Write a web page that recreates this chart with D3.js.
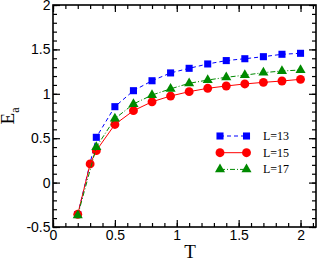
<!DOCTYPE html>
<html>
<head>
<meta charset="utf-8">
<script src="https://cdn.jsdelivr.net/npm/d3@7"></script>
<style>
  body { margin: 0; background: #fff; }
  svg { display: block; font-family: "Liberation Serif", "DejaVu Serif", serif; }
</style>
</head>
<body>
<script>
// Temperatures (x values) shared by the series
const temps = [0.2, 0.35, 0.5, 0.65, 0.8, 0.95, 1.1, 1.25, 1.4, 1.55, 1.7, 1.85, 2.0];
// L=15 has one extra point at T=0.3
const temps15 = [0.2, 0.3, 0.35, 0.5, 0.65, 0.8, 0.95, 1.1, 1.25, 1.4, 1.55, 1.7, 1.85, 2.0];

const ea13 = [-0.36, 0.51, 0.855, 1.035, 1.147, 1.235, 1.287, 1.336, 1.374, 1.395, 1.418, 1.445, 1.456];
const ea15 = [-0.357, 0.21, 0.36, 0.655, 0.81, 0.91, 0.975, 1.024, 1.062, 1.088, 1.111, 1.129, 1.144, 1.163];
const ea17 = [-0.37, 0.40, 0.72, 0.885, 0.986, 1.056, 1.118, 1.155, 1.186, 1.21, 1.238, 1.257, 1.268];

const seriesNames = ["L=13", "L=15", "L=17"];
const xTickValues = [0, 0.5, 1, 1.5, 2];
const yTickValues = [-0.5, 0, 0.5, 1, 1.5, 2];

const series = [
  { name: seriesNames[0], xs: temps, ys: ea13, color: "#0000ff", dash: "4,3", symbol: d3.symbolSquare, size: 50 },
  { name: seriesNames[1], xs: temps15, ys: ea15, color: "#ff0000", dash: null, symbol: d3.symbolCircle, size: 62 },
  { name: seriesNames[2], xs: temps, ys: ea17, color: "#008a00", dash: "5,2,1,2", symbol: d3.symbolTriangle, size: 44 }
];

const W = 327, H = 259;
const margin = { top: 5, right: 11, bottom: 32, left: 53 };
const width = W - margin.left - margin.right;
const height = H - margin.top - margin.bottom;

const svg = d3.select("body").append("svg")
  .attr("width", W)
  .attr("height", H);

const g = svg.append("g")
  .attr("transform", "translate(" + margin.left + "," + margin.top + ")");

const x = d3.scaleLinear().domain([0, 2.125]).range([0, width]);
const y = d3.scaleLinear().domain([-0.5, 2]).range([height, 0]);

const fmt = d => String(d);
const minorX = d3.range(0, 2.11, 0.1).map(v => +v.toFixed(1));
const minorY = d3.range(-0.5, 2.01, 0.1).map(v => +v.toFixed(1));

// Axes: ticks point inward, minor ticks shorter
function styleAxis(sel) {
  sel.select(".domain").remove();
  sel.selectAll("line").attr("stroke", "#000").attr("stroke-width", 1.2);
  sel.selectAll("text").style("font-size", "14px").attr("fill", "#000");
}

g.append("g").attr("transform", "translate(0," + height + ")")
  .call(d3.axisBottom(x).tickValues(minorX).tickSize(-4).tickFormat(""))
  .call(styleAxis);
g.append("g").attr("transform", "translate(0," + height + ")")
  .call(d3.axisBottom(x).tickValues(xTickValues).tickSize(-7).tickPadding(3).tickFormat(fmt))
  .call(styleAxis);

g.append("g")
  .call(d3.axisTop(x).tickValues(minorX).tickSize(-4).tickFormat(""))
  .call(styleAxis);
g.append("g")
  .call(d3.axisTop(x).tickValues(xTickValues).tickSize(-7).tickFormat(""))
  .call(styleAxis);

g.append("g")
  .call(d3.axisLeft(y).tickValues(minorY).tickSize(-4).tickFormat(""))
  .call(styleAxis);
g.append("g")
  .call(d3.axisLeft(y).tickValues(yTickValues).tickSize(-7).tickPadding(2.5).tickFormat(fmt))
  .call(styleAxis);

g.append("g").attr("transform", "translate(" + width + ",0)")
  .call(d3.axisRight(y).tickValues(minorY).tickSize(-4).tickFormat(""))
  .call(styleAxis);
g.append("g").attr("transform", "translate(" + width + ",0)")
  .call(d3.axisRight(y).tickValues(yTickValues).tickSize(-7).tickFormat(""))
  .call(styleAxis);

// Frame
g.append("rect")
  .attr("width", width)
  .attr("height", height)
  .attr("fill", "none")
  .attr("stroke", "#000")
  .attr("stroke-width", 1.6);

// Series lines and markers
const line = d3.line().x(d => x(d[0])).y(d => y(d[1]));

series.forEach(function(s) {
  const pts = s.xs.map((t, i) => [t, s.ys[i]]);
  g.append("path")
    .datum(pts)
    .attr("d", line)
    .attr("fill", "none")
    .attr("stroke", s.color)
    .attr("stroke-width", 1)
    .attr("stroke-dasharray", s.dash);
  g.selectAll(null)
    .data(pts)
    .enter().append("path")
    .attr("d", d3.symbol().type(s.symbol).size(s.size))
    .attr("transform", d => "translate(" + x(d[0]) + "," + y(d[1]) + ")")
    .attr("fill", s.color);
});

// Legend
const legend = svg.append("g").attr("transform", "translate(220,136)");
series.forEach(function(s, i) {
  const row = legend.append("g").attr("transform", "translate(0," + i * 16.7 + ")");
  row.append("line")
    .attr("x1", 0).attr("x2", 26.5)
    .attr("stroke", s.color)
    .attr("stroke-width", 1)
    .attr("stroke-dasharray", s.dash);
  [0, 26.5].forEach(function(px) {
    row.append("path")
      .attr("d", d3.symbol().type(s.symbol).size(s.size))
      .attr("transform", "translate(" + px + ",0)")
      .attr("fill", s.color);
  });
  row.append("text")
    .attr("x", 43)
    .attr("y", 4)
    .style("font-size", "12px")
    .text(s.name);
});

// Axis titles
svg.append("text")
  .attr("x", 190)
  .attr("y", 258)
  .attr("text-anchor", "middle")
  .style("font-size", "19px")
  .text("T");

const yTitle = svg.append("text")
  .attr("transform", "translate(14,116) rotate(-90)")
  .attr("text-anchor", "middle")
  .style("font-size", "19px");
yTitle.append("tspan").text("E");
yTitle.append("tspan").attr("dy", 5).style("font-size", "12px").text("a");
</script>
</body>
</html>
